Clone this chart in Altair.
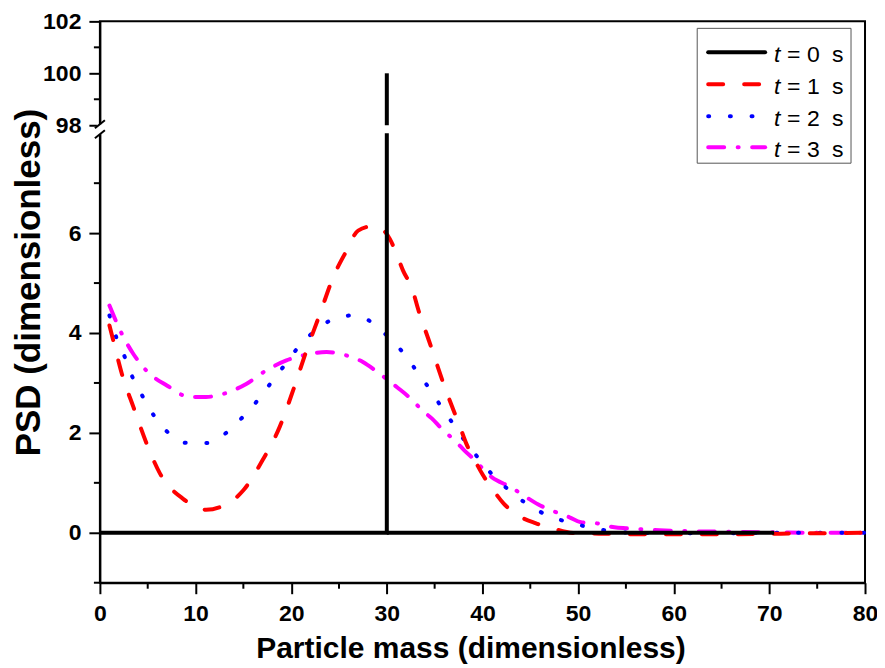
import altair as alt
import pandas as pd

FONT = "Liberation Sans"

# ---------------- data ----------------
times = [0, 1, 2, 3]
series_colors = ["#000000", "#FF0000", "#0000FF", "#FF00FF"]

# t = 0 s : delta distribution at x = 30 (drawn in three pieces around the axis break)
t0_x = [0, 30, 30, 30, 30, 30, 70.5]
t0_y = [0, 0, 8, 98, 100, 0, 0]
t0_seg = [0, 0, 0, 1, 1, 2, 2]

t1_x = [1, 1.4, 2.3, 3.5, 4.9, 6.3, 8.7, 11.1, 13.0, 15.0, 17.0, 18.8, 20.2, 21.6, 23.0,
        24.4, 25.8, 27.0, 28.6, 29.5, 30.3, 31.0, 31.7, 32.6, 33.4, 34.4, 35.0, 35.9, 36.9,
        37.6, 38.3, 39.2, 40.0, 41.0, 42.2, 43.7, 45.6, 47.3, 49.8, 53.3, 57, 62, 66, 70, 75, 80]
t1_y = [4.15, 3.85, 3.18, 2.52, 1.78, 1.18, 0.68, 0.46, 0.55, 0.85, 1.45, 2.12, 2.85, 3.65, 4.38,
        5.12, 5.65, 6.05, 6.14, 6.08, 5.89, 5.59, 5.25, 4.91, 4.40, 3.85, 3.51, 3.00, 2.49,
        2.15, 1.79, 1.45, 1.17, 0.89, 0.59, 0.35, 0.19, 0.09, -0.01, -0.02, -0.03, -0.03, -0.03, -0.02, -0.01, 0.0]

t2_x = [1, 1.7, 2.6, 3.4, 4.5, 5.6, 7.0, 9.1, 11.3, 13.2, 14.8, 16.4, 17.8, 19.2, 20.5, 22.1,
        24.1, 26.3, 28.3, 30.0, 31.6, 33.0, 34.4, 35.6, 36.9, 38.2, 39.6, 41.0, 42.8, 44.7, 46.8,
        49.0, 51.2, 53.5, 55.7, 60, 65, 70, 75, 80]
t2_y = [4.35, 3.92, 3.52, 3.12, 2.72, 2.36, 2.03, 1.80, 1.80, 2.00, 2.29, 2.63, 2.98, 3.33, 3.66, 3.98,
        4.25, 4.35, 4.23, 3.95, 3.63, 3.27, 2.90, 2.55, 2.19, 1.83, 1.49, 1.17, 0.85, 0.57, 0.35,
        0.21, 0.11, 0.03, 0.0, -0.01, -0.01, 0.0, 0.0, 0.0]

t3_x = [1, 2.3, 3.5, 5.0, 7.0, 9.4, 11.1, 12.9, 15.3, 17.4, 19.5, 21.2, 23.7, 25.8, 27.5, 29.2,
        31.1, 32.7, 33.7, 34.7, 35.7, 37.3, 38.1, 39.0, 41.0, 43.0, 44.6, 45.8, 47.2, 49.1, 50.3,
        51.9, 53.8, 55.0, 56.7, 58.5, 62, 66, 70, 75, 80]
t3_y = [4.55, 3.98, 3.58, 3.22, 2.95, 2.72, 2.72, 2.78, 2.98, 3.25, 3.45, 3.55, 3.62, 3.55, 3.42, 3.19,
        2.91, 2.65, 2.45, 2.29, 2.09, 1.81, 1.65, 1.49, 1.11, 0.91, 0.71, 0.57, 0.45, 0.31, 0.21,
        0.19, 0.11, 0.09, 0.07, 0.05, 0.03, 0.02, 0.01, 0.0, 0.0]

x_major = list(range(0, 81, 10))
x_minor = list(range(5, 80, 10))
y_major = [0, 2, 4, 6, 98, 100, 102]
y_minor = [-1, 1, 3, 5, 7, 99, 101]
y_break_domain = [-1, 8, 98, 102]

# ---------------- layout ----------------
W, H = 766, 562
y_range = [562, 112, 104, 0]

xscale = alt.Scale(domain=[0, 80], nice=False, zero=False)
yscale = alt.Scale(domain=y_break_domain, range=y_range, nice=False, zero=False)

common_axis = dict(
    grid=False, domainColor="black", domainWidth=2, tickColor="black", tickWidth=2,
    tickSize=11, labelFont=FONT, labelFontSize=23, labelFontWeight="bold",
    labelColor="black", labelOverlap=False, titleFont=FONT,
    titleFontWeight="bold", titleColor="black",
)
xaxis = alt.Axis(values=x_major, title="Particle mass (dimensionless)", labelPadding=9,
                 labelFlush=False, titleY=75, titleX=371, titleBaseline="alphabetic",
                 titleAlign="center", titleFontSize=30, **common_axis)
yaxis = alt.Axis(values=y_major, title="PSD (dimensionless)", labelPadding=8,
                 titleX=-60, titleY=261, titleAngle=270, titleBaseline="alphabetic",
                 titleAlign="center", titleFontSize=35, **common_axis)


def X(field):
    return alt.X(field, type="quantitative", scale=xscale, axis=xaxis)


def Y(field):
    return alt.Y(field, type="quantitative", scale=yscale, axis=yaxis)


layers = []

# minor ticks
layers.append(
    alt.Chart(pd.DataFrame({"y": y_minor})).mark_rule(color="black", strokeWidth=2)
    .encode(y=Y("y"), x=alt.value(-6), x2=alt.value(0))
)
layers.append(
    alt.Chart(pd.DataFrame({"x": x_minor})).mark_rule(color="black", strokeWidth=2)
    .encode(x=X("x"), y=alt.value(H), y2=alt.value(H + 6))
)

dashes = {1: [15, 21], 2: [1, 20.7], 3: [16, 13.5, 1, 13.5]}
curves = {1: (t1_x, t1_y), 2: (t2_x, t2_y), 3: (t3_x, t3_y)}
for t in [3, 2, 1]:
    xs, ys = curves[t]
    df = pd.DataFrame({"x": xs, "y": ys})
    layers.append(
        alt.Chart(df).mark_line(color=series_colors[t], strokeWidth=4, strokeDash=dashes[t],
                                strokeCap="round", interpolate="monotone")
        .encode(x=X("x"), y=Y("y"))
    )

df0 = pd.DataFrame({"x": t0_x, "y": t0_y, "seg": t0_seg, "o": list(range(len(t0_x)))})
layers.append(
    alt.Chart(df0).mark_line(color="black", strokeWidth=4, strokeCap="butt")
    .encode(x=X("x"), y=Y("y"), detail="seg:N", order="o:Q")
)

# axis break on the left axis
one = pd.DataFrame({"a": [1]})
layers.append(
    alt.Chart(one).mark_rect(color="white")
    .encode(x=alt.value(-3), x2=alt.value(3), y=alt.value(103), y2=alt.value(113))
)
for (ya, yb) in [(107, 99), (117, 109)]:
    layers.append(
        alt.Chart(one).mark_rule(color="black", strokeWidth=2)
        .encode(x=alt.value(-5), x2=alt.value(5), y=alt.value(ya), y2=alt.value(yb))
    )

# legend
layers.append(
    alt.Chart(one).mark_rect(fill="white", stroke="#555555", strokeWidth=1)
    .encode(x=alt.value(598), x2=alt.value(752), y=alt.value(7), y2=alt.value(142))
)
leg_y = [31, 63, 95, 126]
for i, t in enumerate(times):
    ly = leg_y[i]
    mk = dict(color=series_colors[i], strokeWidth=4, strokeCap="round")
    if t in dashes:
        mk["strokeDash"] = dashes[t]
    layers.append(
        alt.Chart(one).mark_rule(**mk)
        .encode(x=alt.value(609), x2=alt.value(666), y=alt.value(ly))
    )
    ty = ly + 9.5
    layers.append(
        alt.Chart(one).mark_text(text="t", font=FONT, fontSize=23, fontStyle="italic",
                                 align="left", baseline="alphabetic", color="black")
        .encode(x=alt.value(675), y=alt.value(ty))
    )
    for txt, xx in [("=", 688), (str(t), 708), ("s", 733)]:
        layers.append(
            alt.Chart(one).mark_text(text=txt, font=FONT, fontSize=23, align="left",
                                     baseline="alphabetic", color="black")
            .encode(x=alt.value(xx), y=alt.value(ty))
        )

chart = (
    alt.layer(*layers)
    .properties(width=W, height=H, autosize="none",
                padding={"left": 92, "top": 13, "right": 12, "bottom": 85},
                background="white")
    .configure_view(stroke="black", strokeWidth=2)
)

chart.save("out.html", embed_options={"renderer": "svg", "actions": False})
